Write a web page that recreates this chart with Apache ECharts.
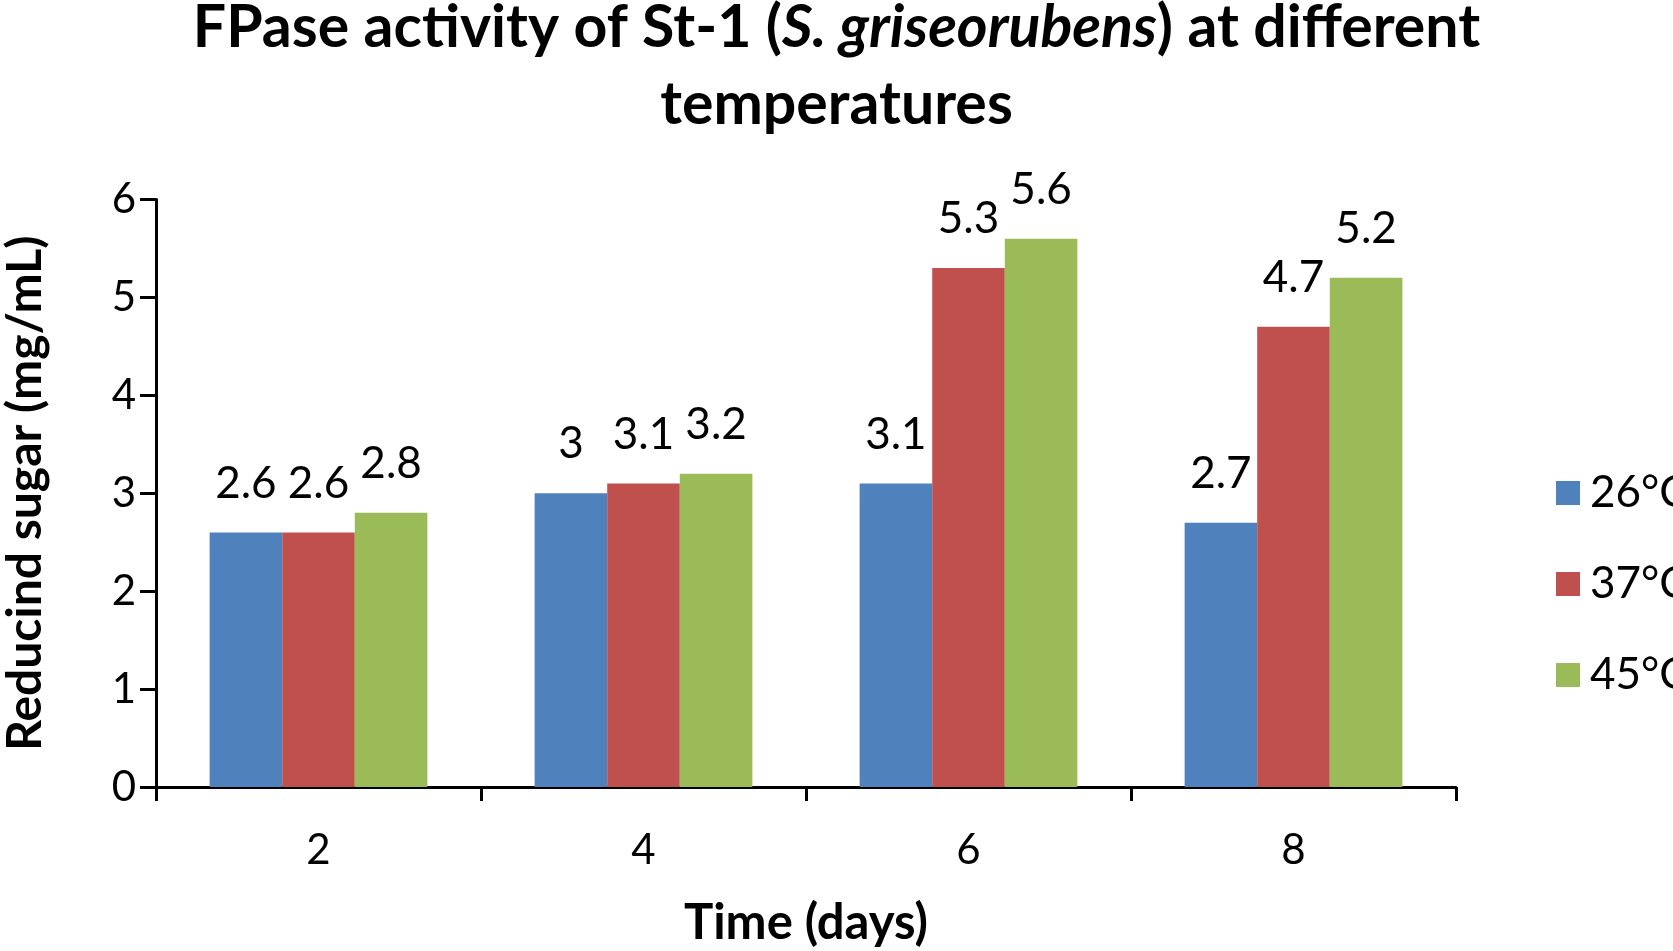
<!DOCTYPE html>
<html>
<head>
<meta charset="utf-8">
<script src="https://cdn.jsdelivr.net/npm/echarts@6/dist/echarts.min.js"></script>
<style>
html,body{margin:0;padding:0;background:#fff;}
#chart{width:1673px;height:951px;}
</style>
</head>
<body>
<div id="chart"></div>
<script>
const categories = ['2', '4', '6', '8'];
const seriesNames = ['26°C', '37°C', '45°C'];
const values26 = [2.6, 3, 3.1, 2.7];
const values37 = [2.6, 3.1, 5.3, 4.7];
const values45 = [2.8, 3.2, 5.6, 5.2];
const yTicks = [0, 1, 2, 3, 4, 5, 6];

const FONT = 'Lato, "Liberation Sans", sans-serif';
const colors = ['#4F81BD', '#C0504D', '#9BBB59'];
const allValues = [values26, values37, values45];

const chart = echarts.init(document.getElementById('chart'));
chart.setOption({
  backgroundColor: '#ffffff',
  animation: false,
  title: {
    text: 'FPase activity of St-1 ({i|S. griseorubens}) at different\ntemperatures',
    left: 'center',
    top: -16,
    textStyle: {
      fontFamily: FONT, fontSize: 59, fontWeight: 'bold', color: '#000', lineHeight: 77,
      rich: {
        i: { fontFamily: FONT, fontSize: 59, fontWeight: 'bold', fontStyle: 'italic', color: '#000', lineHeight: 77 }
      }
    }
  },
  legend: {
    orient: 'vertical',
    left: 1551,
    top: 466,
    icon: 'rect',
    itemWidth: 24,
    itemHeight: 24,
    itemGap: 47,
    data: seriesNames,
    textStyle: { fontFamily: FONT, fontSize: 44, color: '#000', lineHeight: 44, padding: [0, 0, 0, 5] }
  },
  grid: { left: 156, right: 217, top: 199.5, bottom: 164, containLabel: false, outerBoundsMode: 'none' },
  xAxis: {
    type: 'category',
    data: categories,
    name: 'Time (days)',
    nameLocation: 'middle',
    nameGap: 112,
    nameTextStyle: { fontFamily: FONT, fontSize: 49, fontWeight: 'bold', color: '#000' },
    axisLine: { lineStyle: { color: '#000', width: 3 } },
    axisTick: { show: true, length: 14, lineStyle: { color: '#000', width: 3 } },
    axisLabel: { margin: 42, fontFamily: FONT, fontSize: 42, color: '#000' }
  },
  yAxis: {
    type: 'value',
    min: yTicks[0],
    max: yTicks[yTicks.length - 1],
    interval: 1,
    name: 'Reducind sugar (mg/mL)',
    nameLocation: 'middle',
    nameGap: 106,
    nameRotate: 90,
    nameTextStyle: { fontFamily: FONT, fontSize: 48, fontWeight: 'bold', color: '#000' },
    splitLine: { show: false },
    axisLine: { show: true, lineStyle: { color: '#000', width: 3 } },
    axisTick: { show: true, length: 16, lineStyle: { color: '#000', width: 3 } },
    axisLabel: { margin: 20, fontFamily: FONT, fontSize: 42, color: '#000' }
  },
  series: seriesNames.map((name, i) => ({
    name: name,
    type: 'bar',
    data: allValues[i],
    barGap: '0%',
    barCategoryGap: '33%',
    itemStyle: { color: colors[i] },
    label: {
      show: true,
      position: 'top',
      distance: 27,
      fontFamily: FONT,
      fontSize: 44,
      color: '#000'
    }
  }))
});
</script>
</body>
</html>
